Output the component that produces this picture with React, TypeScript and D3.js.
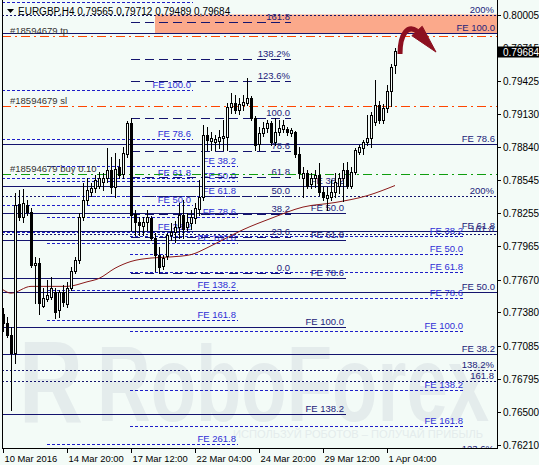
import React from "react";
import * as d3 from "d3";

const WIDTH = 539;
const HEIGHT = 465;
const BG = "#f3fbf7";

// EURGBP H4 bars, oldest first: [open, high, low, close]
const bars: number[][] = [
  [0.7737, 0.7742, 0.7722, 0.7729],
  [0.7729, 0.7734, 0.7716, 0.7718],
  [0.7718, 0.7725, 0.7652, 0.7702],
  [0.7702, 0.7843, 0.7693, 0.7833],
  [0.7834, 0.7846, 0.782, 0.7822],
  [0.7822, 0.7847, 0.7818, 0.7835],
  [0.7833, 0.7837, 0.7824, 0.7827],
  [0.7827, 0.783, 0.7778, 0.778],
  [0.778, 0.7787, 0.7746, 0.7782],
  [0.7782, 0.7786, 0.7737, 0.7746],
  [0.7744, 0.776, 0.7743, 0.7751],
  [0.775, 0.7767, 0.7748, 0.7753],
  [0.7752, 0.7769, 0.775, 0.776],
  [0.7756, 0.776, 0.7733, 0.7738],
  [0.774, 0.7758, 0.7734, 0.7756],
  [0.7756, 0.7762, 0.7744, 0.7747],
  [0.7745, 0.7765, 0.7743, 0.776],
  [0.776, 0.7778, 0.7758, 0.7775],
  [0.7775, 0.7787, 0.7773, 0.7784],
  [0.7784, 0.7826, 0.7782, 0.7822],
  [0.7822, 0.7852, 0.782, 0.7837],
  [0.7837, 0.7857, 0.7834, 0.7846],
  [0.7844, 0.7852, 0.7841, 0.7848],
  [0.7848, 0.7859, 0.7844, 0.7855],
  [0.785, 0.7862, 0.7848, 0.7857],
  [0.7853, 0.7861, 0.7846, 0.7857],
  [0.7857, 0.7883, 0.7853, 0.7864],
  [0.7864, 0.7875, 0.7843, 0.7849],
  [0.7849, 0.7879, 0.784, 0.7865],
  [0.7866, 0.7873, 0.7857, 0.7859],
  [0.786, 0.7884, 0.7857, 0.7879],
  [0.7878, 0.7907, 0.7875, 0.7905],
  [0.7905, 0.791, 0.7811, 0.7824],
  [0.7825, 0.7828, 0.7806, 0.7818],
  [0.7818, 0.7822, 0.7806, 0.7815],
  [0.7814, 0.7822, 0.7806, 0.7818],
  [0.7818, 0.7828, 0.7811, 0.7822],
  [0.7821, 0.7823, 0.7802, 0.7804],
  [0.7804, 0.7808, 0.7775, 0.7789],
  [0.7789, 0.7796, 0.7773, 0.7778],
  [0.7779, 0.7789, 0.7776, 0.7786],
  [0.7788, 0.7808, 0.7785, 0.7806],
  [0.7806, 0.7817, 0.7802, 0.7809],
  [0.7809, 0.7819, 0.78, 0.7813],
  [0.7813, 0.7835, 0.7804, 0.7824],
  [0.7824, 0.7837, 0.7804, 0.7812],
  [0.7813, 0.7826, 0.7811, 0.7818],
  [0.7817, 0.7828, 0.7812, 0.7822],
  [0.7821, 0.7835, 0.7817, 0.783],
  [0.7829, 0.7855, 0.7824, 0.784],
  [0.784, 0.7903, 0.7837, 0.7895],
  [0.7895, 0.7902, 0.7881, 0.789],
  [0.7889, 0.7897, 0.7881, 0.7892],
  [0.7888, 0.7895, 0.7881, 0.7891],
  [0.7889, 0.7899, 0.7883, 0.7893],
  [0.7892, 0.7908, 0.7881, 0.7894],
  [0.7893, 0.7923, 0.7881, 0.7919],
  [0.7919, 0.7932, 0.7914, 0.7923],
  [0.7923, 0.793, 0.7914, 0.7917],
  [0.7917, 0.7927, 0.7913, 0.7922],
  [0.7921, 0.793, 0.7917, 0.7924],
  [0.7923, 0.7945, 0.7921, 0.7927],
  [0.7927, 0.7929, 0.7908, 0.791],
  [0.791, 0.7911, 0.7881, 0.7886],
  [0.7887, 0.7902, 0.7881, 0.7896],
  [0.7896, 0.7906, 0.7894, 0.7901],
  [0.7901, 0.7908, 0.7897, 0.7905],
  [0.7905, 0.7907, 0.7886, 0.7888],
  [0.7888, 0.791, 0.7886, 0.7897],
  [0.7897, 0.7908, 0.7895, 0.7901],
  [0.79, 0.7908, 0.7897, 0.7903],
  [0.79, 0.7902, 0.7895, 0.7897],
  [0.7896, 0.7901, 0.7894, 0.7899],
  [0.7897, 0.7898, 0.7875, 0.7878],
  [0.7878, 0.7884, 0.7857, 0.7861],
  [0.7857, 0.7866, 0.784, 0.7861],
  [0.7861, 0.7864, 0.7848, 0.785],
  [0.7851, 0.7861, 0.7848, 0.7857],
  [0.7857, 0.7864, 0.7849, 0.7859],
  [0.7859, 0.787, 0.7842, 0.7844],
  [0.7844, 0.7849, 0.7837, 0.784],
  [0.7839, 0.7849, 0.7828, 0.7842],
  [0.784, 0.7855, 0.7837, 0.7844],
  [0.7844, 0.7861, 0.784, 0.7853],
  [0.785, 0.7861, 0.7843, 0.7857],
  [0.7857, 0.787, 0.7836, 0.7864],
  [0.7864, 0.7871, 0.7848, 0.785],
  [0.785, 0.7866, 0.7848, 0.7862],
  [0.7862, 0.7883, 0.786, 0.7881],
  [0.788, 0.7886, 0.7878, 0.7884],
  [0.7883, 0.789, 0.7878, 0.7888],
  [0.7888, 0.7912, 0.7886, 0.7892],
  [0.7892, 0.7915, 0.7884, 0.7912],
  [0.7906, 0.7943, 0.7903, 0.7921],
  [0.7921, 0.7925, 0.7905, 0.7908],
  [0.7908, 0.7922, 0.7905, 0.7918],
  [0.7918, 0.7939, 0.7915, 0.7933],
  [0.7933, 0.7957, 0.792, 0.7955],
  [0.79565, 0.79712, 0.79489, 0.79684],
];

// time axis: bar index of each label
const timeTickBars = [0, 16, 32, 48, 64, 80, 96];
const timeTickLabels = [
  "10 Mar 2016",
  "14 Mar 20:00",
  "17 Mar 12:00",
  "22 Mar 04:00",
  "24 Mar 20:00",
  "29 Mar 12:00",
  "1 Apr 04:00",
];

const priceTicks = [
  0.80005, 0.79715, 0.79425, 0.7913, 0.7884, 0.78545, 0.78255, 0.77965, 0.7767,
  0.7738, 0.77085, 0.76795, 0.765, 0.7621,
];
const lastClose = 0.79684;
const headerText = "EURGBP,H4  0,79565 0,79712 0,79489 0,79684";

// moving average samples (bar index, value)
const maBars = [0, 2, 7, 16, 21, 24, 28, 32, 37, 42, 47, 51, 56, 60, 67, 75, 83, 91, 98];
const maValues = [
  0.7758, 0.7755, 0.7761, 0.7761, 0.7765, 0.7768, 0.7777, 0.7783, 0.7786, 0.7787,
  0.7789, 0.7795, 0.7804, 0.7811, 0.7821, 0.7831, 0.7835, 0.7841, 0.785,
];

// order #18594679: take profit, stop loss, entry
const orderPrices = [0.7982, 0.79201, 0.78601];
const orderTexts = ["#18594679 tp", "#18594679 sl", "#18594679 buy 0.10"];
const orderIsEntry = [false, false, true];

// Fibonacci retracement drawn from the bar-32 high to the bar-39 low
const retrLevels = [0, 23.6, 38.2, 50, 61.8, 78.6, 100, 123.6, 138.2, 161.8];
const retrLabels = ["0.0", "23.6", "38.2", "50.0", "61.8", "78.6", "100.0", "123.6%", "138.2%", "161.8"];
const retrSpan = { fromBar: 32, toBar: 72, zero: 0.77727, full: 0.79096 };

// wide retracement grids reaching the price scale
const wideGrids = [
  { zero: 0.69869, full: 0.74937, levels: [123.6, 138.2, 161.8, 200], labels: ["123.6%", "138.2%", "161.8", "200%"] },
  { zero: 0.69853, full: 0.7413, levels: [161.8, 200], labels: ["161.8", "200%"] },
];

// Fibonacci expansions: 0% and 100% prices, bar span, solid or dotted
const expansions = [
  { fromBar: -2, toBar: 47.5, zero: 0.77321, full: 0.79343, levels: [38.2, 50, 61.8, 78.6, 100, 138.2], solid: false },
  { fromBar: -2, toBar: 124, zero: 0.75266, full: 0.79846, levels: [38.2, 50, 61.8, 78.6, 100], solid: true },
  { fromBar: -2, toBar: 85.75, zero: 0.79263, full: 0.7725, levels: [38.2, 50, 61.8, 78.6, 100, 138.2], solid: true },
  { fromBar: 31.75, toBar: 115.5, zero: 0.78572, full: 0.77215, levels: [38.2, 50, 61.8, 78.6, 100, 138.2, 161.8], solid: false },
  { fromBar: 11, toBar: 58.75, zero: 0.79087, full: 0.77992, levels: [38.2, 50, 61.8, 78.6, 100, 138.2, 161.8, 261.8], solid: false },
];

// target zone from bar 38 to the right edge
const targetZone = { fromBar: 38, top: 0.80014, bottom: 0.79846 };

// curved arrow: start, two control points, end of shaft, head tip (bar, price)
const arrowPath = [
  [99.25, 0.79661],
  [99.25, 0.79846],
  [101.25, 0.79917],
  [103.5, 0.79864],
  [108.25, 0.79678],
];

const FONT = "'Liberation Sans', Arial, sans-serif";
const NAVY = "#14146e";
const NAVY_TEXT = "#22227a";
const BLUE = "#1e1ec8";
const BLUE_TEXT = "#2e2ed6";

export default function App() {
  const left = 2;
  const right = 497;
  const bottom = 448;

  const x = d3.scaleLinear().domain([0, 1]).range([3, 7]);
  const y = d3.scaleLinear().domain([0.7621, 0.80005]).range([445, 15]);
  const py = (p: number) => Math.round(y(p)) + 0.5;
  const edgeBar = x.invert(right);

  const hx = (b: number) => Math.max(left, Math.min(right, x(b)));

  const maLine = d3
    .line<number>()
    .x((_, i) => x(maBars[i]))
    .y((d) => y(d))
    .curve(d3.curveMonotoneX);

  const items: React.ReactNode[] = [];

  // target zone
  items.push(
    <rect
      key="zone"
      x={hx(targetZone.fromBar)}
      y={py(targetZone.top)}
      width={right - hx(targetZone.fromBar)}
      height={py(targetZone.bottom) - py(targetZone.top)}
      fill="#fba98b"
    />
  );

  // wide grids
  wideGrids.forEach((g, gi) => {
    g.levels.forEach((lv, li) => {
      const p = g.zero + (lv / 100) * (g.full - g.zero);
      const yy = py(p);
      items.push(
        <g key={`w${gi}-${li}`}>
          <line x1={left} x2={right} y1={yy} y2={yy} stroke={NAVY} strokeDasharray="2,2" />
          <text x={right - 3} y={yy - 3} textAnchor="end" fontSize={9.5} fill={NAVY_TEXT} fontFamily={FONT}>
            {g.labels[li]}
          </text>
        </g>
      );
    });
  });

  // expansions
  expansions.forEach((e, ei) => {
    e.levels.forEach((lv, li) => {
      const p = e.zero + (lv / 100) * (e.full - e.zero);
      const yy = py(p);
      const x1 = hx(e.fromBar);
      const x2 = hx(Math.min(e.toBar, edgeBar));
      items.push(
        <g key={`e${ei}-${li}`}>
          <line
            x1={x1}
            x2={x2}
            y1={yy}
            y2={yy}
            stroke={e.solid ? NAVY : BLUE}
            strokeDasharray={e.solid ? undefined : "3,2"}
          />
          {yy > 12 && (
            <text
              x={x2 - 2}
              y={yy - 2.5}
              textAnchor="end"
              fontSize={9.5}
              fill={e.solid ? NAVY_TEXT : BLUE_TEXT}
              fontFamily={FONT}
            >
              {`FE ${lv.toFixed(1)}`}
            </text>
          )}
        </g>
      );
    });
  });

  // retracement
  retrLevels.forEach((lv, li) => {
    const p = retrSpan.zero + (lv / 100) * (retrSpan.full - retrSpan.zero);
    const yy = py(p);
    items.push(
      <g key={`r${li}`}>
        <line x1={x(retrSpan.fromBar)} x2={x(retrSpan.toBar)} y1={yy} y2={yy} stroke={NAVY} strokeDasharray="9,5" />
        <text x={x(retrSpan.toBar) - 1} y={yy - 2.5} textAnchor="end" fontSize={9.5} fill={NAVY_TEXT} fontFamily={FONT}>
          {retrLabels[li]}
        </text>
      </g>
    );
  });

  // order lines
  orderPrices.forEach((p, i) => {
    const yy = py(p);
    items.push(
      <g key={`o${i}`}>
        <line
          x1={left}
          x2={right}
          y1={yy}
          y2={yy}
          stroke={orderIsEntry[i] ? "#0f9d0f" : "#ff4500"}
          strokeDasharray="9,4,2,4"
        />
        <text x={10} y={yy - 2.5} fontSize={9.5} fill="#333" fontFamily={FONT}>
          {orderTexts[i]}
        </text>
      </g>
    );
  });

  // moving average
  items.push(<path key="ma" d={maLine(maValues) || ""} fill="none" stroke="#8b1a1a" strokeWidth={1} />);

  // candles
  bars.forEach((b, i) => {
    const [o, h, l, c] = b;
    const cx = Math.round(x(i)) + 0.5;
    const up = c >= o;
    const yt = Math.round(y(Math.max(o, c)));
    const yb = Math.round(y(Math.min(o, c)));
    items.push(
      <g key={`c${i}`}>
        <line x1={cx} x2={cx} y1={Math.round(y(h))} y2={Math.round(y(l)) + 1} stroke="#000" />
        <rect x={cx - 1} y={yt + 0.5} width={2} height={Math.max(yb - yt, 0)} fill={up ? BG : "#000"} stroke="#000" />
      </g>
    );
  });

  // arrow
  const ap = arrowPath.map(([b, p]) => [x(b), y(p)]);
  const [a0, a1, a2, a3, tip] = ap;
  const dx = tip[0] - a3[0];
  const dy = tip[1] - a3[1];
  const len = Math.hypot(dx, dy);
  const nx = -dy / len;
  const ny = dx / len;
  const hw = 7;
  const shaft = `M${a0[0]},${a0[1]} C${a1[0]},${a1[1]} ${a2[0]},${a2[1]} ${a3[0]},${a3[1]}`;
  const head = `M${a3[0] + nx * hw},${a3[1] + ny * hw} L${tip[0]},${tip[1]} L${a3[0] - nx * hw},${a3[1] - ny * hw} Z`;

  const lastY = Math.round(y(lastClose));

  return (
    <svg
      width={WIDTH}
      height={HEIGHT}
      style={{ position: "absolute", left: 0, top: 0, display: "block" }}
      fontFamily={FONT}
    >
      <defs>
        <clipPath id="plot">
          <rect x={left} y={0} width={right - left} height={bottom} />
        </clipPath>
      </defs>
      <rect x={0} y={0} width={WIDTH} height={HEIGHT} fill={BG} />

      {/* watermark */}
      <g fill="#e4ecec">
        <text x={19} y={423} fontSize={116} fontWeight="bold" textLength={64} lengthAdjust="spacingAndGlyphs">
          R
        </text>
        <text x={97} y={421} fontSize={107} fontWeight="bold" textLength={392} lengthAdjust="spacingAndGlyphs">
          RoboForex
        </text>
        <text x={233} y={438} fontSize={11} textLength={250} lengthAdjust="spacingAndGlyphs">
          ИСПОЛЬЗУЙ РОБОТОВ – ПОЛУЧАЙ ПРИБЫЛЬ
        </text>
      </g>

      <g clipPath="url(#plot)">{items}</g>

      <path d={shaft} fill="none" stroke="#8c1020" strokeWidth={5} />
      <path d={head} fill="#8c1020" stroke="#8c1020" strokeWidth={1} strokeLinejoin="round" />

      {/* header */}
      <path d="M7,9 L14,9 L10.5,13 Z" fill="#000" />
      <text x={18} y={15} fontSize={10} fill="#000">
        {headerText}
      </text>

      {/* frame */}
      <line x1={left + 0.5} x2={left + 0.5} y1={0} y2={bottom + 0.5} stroke="#000" />
      <line x1={right + 0.5} x2={right + 0.5} y1={0} y2={bottom + 0.5} stroke="#000" />
      <line x1={left} x2={right + 1} y1={bottom + 0.5} y2={bottom + 0.5} stroke="#000" />

      {/* price axis */}
      {priceTicks.map((p) => {
        const yy = py(p);
        return (
          <g key={`pt${p}`}>
            <line x1={right} x2={right + 4} y1={yy} y2={yy} stroke="#000" />
            <text x={503} y={yy + 3.5} fontSize={10} fill="#000">
              {p.toFixed(5)}
            </text>
          </g>
        );
      })}
      <rect x={right + 1} y={lastY - 4.5} width={WIDTH - right - 1} height={11} fill="#000" />
      <text x={503} y={lastY + 4.5} fontSize={10} fill="#fff">
        {lastClose.toFixed(5)}
      </text>

      {/* time axis */}
      {timeTickBars.map((b, i) => {
        const xx = Math.round(x(b)) + 0.5;
        return (
          <g key={`tt${b}`}>
            <line x1={xx} x2={xx} y1={bottom} y2={bottom + 5} stroke="#000" />
            <text x={xx + 1} y={462} fontSize={9.4} fill="#000">
              {timeTickLabels[i]}
            </text>
          </g>
        );
      })}
    </svg>
  );
}
